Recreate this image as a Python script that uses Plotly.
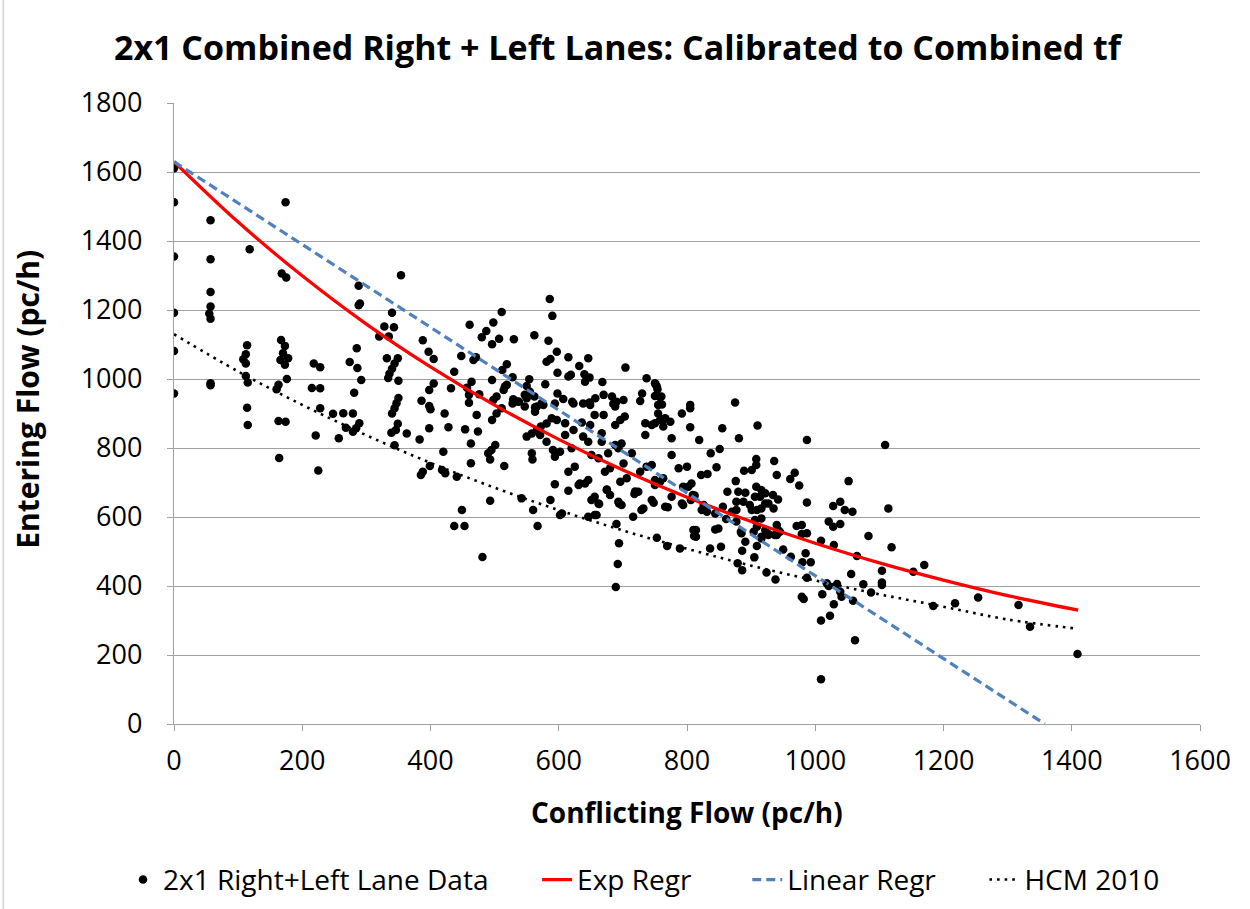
import plotly.graph_objects as go

# ---------------- data ----------------
data_x = [
    0, 0, 0, 0, 0, 0,
    57, 57, 57, 57, 55, 57, 57, 57,
    118, 114, 112, 108, 112, 112, 115, 114, 115,
    174, 168, 175, 167, 173, 170, 166, 178, 173, 176, 163, 160, 163, 174, 164,
    225, 218, 228, 215, 228, 228, 221, 257, 248, 264, 279, 289, 268, 279, 284, 274, 286, 285, 292, 281,
    288, 290, 288, 320, 328, 335, 343, 340, 354, 349, 344, 340, 336, 334, 350, 332, 350, 347, 344, 340,
    349, 346, 339, 363, 344, 388, 397, 386, 400, 398, 398, 398, 383, 405, 405,
    399, 385, 388,
    586, 590, 511, 498, 461, 487, 480, 496, 507, 530, 562, 584, 597, 587, 581, 448, 471, 467, 519, 512,
    437, 528, 519, 514, 496, 464, 457, 432, 476, 460, 460, 503, 498, 516, 554, 550, 529, 536, 547, 555,
    562, 550, 579, 563, 576,
    615, 646, 632, 598, 619, 615, 640, 648, 641, 704, 668, 737, 751, 754, 750, 758, 730, 727, 761, 598,
    607, 621, 638, 648, 657, 670, 683, 690, 701, 688,
    422, 472, 503, 511, 496, 428, 454, 474, 463, 420, 501, 495, 490, 493, 515, 463, 418, 423, 441, 493,
    449, 437, 453, 567, 560, 587, 602, 542, 594, 558, 559, 591, 594, 528, 538, 547, 563, 566, 573, 581,
    589, 597, 550, 558, 566, 571, 581, 572,
    594, 623, 649, 685, 792, 755, 763, 656, 670, 610, 636, 649, 688, 696, 703, 735, 745, 763, 774, 610,
    623, 638, 646, 667, 667, 735, 776, 688, 693, 698, 602, 620, 651, 662, 677, 714, 776, 701, 680, 672,
    615, 625, 727, 737, 745, 787, 800, 750, 763, 633, 646, 696, 706, 794, 615, 675, 656, 651, 719, 745,
    776, 662, 693, 698, 732, 766, 794, 605, 646, 656, 716, 690,
    481, 631, 641, 663, 675, 680, 659, 694, 718, 724, 729, 694, 692, 689, 748, 750, 758, 770, 792, 806,
    809, 753, 769, 789, 810, 811,
    805, 755, 760, 753, 750, 750, 758, 766,
    875, 805, 805, 855, 910, 819, 881, 987, 1109, 851, 837, 846, 822, 832, 908, 908, 936, 889, 901, 940,
    968, 961, 975, 1052, 807, 802, 876, 863, 908, 916, 922, 914, 906, 880, 891, 934, 942, 812, 877, 888,
    898, 856, 922, 927, 935, 987, 1028, 1039, 1046, 1058, 1114, 826, 823, 831, 844, 870, 877, 901, 909, 916,
    861, 877, 906, 916, 909, 904, 940, 942, 937, 922, 927, 916, 909, 891, 884, 849, 844, 814, 814, 853,
    836, 971, 979, 979, 987, 1021, 1028, 1039, 1009, 1029, 1083, 1119, 950,
    1065, 962, 985, 980, 993, 987, 1056, 1104, 1104, 1104, 1153, 1170, 1075, 1087, 1018, 1021, 1034, 1039, 1041, 1011,
    1059, 1029, 1023, 1009, 1062, 1009, 979, 982, 1184, 1218, 885, 886, 886, 905, 879, 924, 938, 916, 927, 940,
    945,
    1254, 1317, 1335, 1409,
]
data_y = [
    1611, 1512, 1355, 1192, 1081, 958,
    1460, 1347, 1252, 1210, 1190, 1175, 988, 982,
    1376, 1098, 1072, 1057, 1045, 1009, 990, 917, 867,
    1512, 1306, 1294, 1113, 1096, 1075, 1055, 1060, 1041, 1000, 983, 970, 878, 876, 771,
    735, 1045, 1034, 974, 973, 915, 836, 828, 899, 901, 900, 872, 859, 847, 857, 1049, 1032, 1089, 997, 960,
    1214, 1219, 1270, 1123, 1152, 1123, 1150, 1192, 1301, 1060, 1045, 1030, 1015, 1003, 995, 1060, 945, 930, 915, 900,
    870, 852, 844, 842, 808, 1112, 1079, 937, 912, 922, 968, 857, 825, 987, 1058,
    748, 722, 731,
    1232, 1183, 1194, 1164, 1157, 1139, 1121, 1101, 1117, 1115, 1127, 1111, 1079, 1058, 1050, 1067, 1063, 1055, 1043, 1026,
    1021, 1005, 983, 968, 997, 992, 975, 973, 956, 954, 931, 949, 939, 978, 999, 980, 941, 935, 954, 963,
    949, 944, 985, 918, 925,
    1063, 1060, 1038, 1018, 1012, 1007, 1014, 1004, 992, 1033, 991, 1002, 985, 970, 951, 947, 958, 936, 926, 958,
    942, 934, 929, 932, 944, 954, 949, 934, 939, 920,
    900, 896, 900, 915, 881, 860, 854, 848, 813, 789, 809, 794, 785, 767, 748, 756, 736, 727, 717, 647,
    620, 574, 574, 574, 620, 649, 606, 654, 695, 785, 767, 794, 775, 929, 934, 920, 905, 920, 929, 871,
    886, 881, 833, 842, 852, 838, 818, 862,
    929, 929, 925, 928, 900, 900, 883, 896, 896, 872, 874, 867, 867, 881, 891, 872, 867, 862, 876, 838,
    852, 833, 818, 843, 818, 838, 828, 809, 799, 813, 789, 799, 780, 770, 785, 785, 780, 755, 741, 731,
    731, 746, 731, 746, 751, 741, 746, 707, 712, 697, 707, 702, 712, 688, 676, 680, 659, 649, 674, 649,
    659, 639, 644, 635, 625, 630, 635, 610, 601, 606, 601, 580,
    484, 693, 697, 638, 678, 664, 606, 639, 667, 673, 620, 524, 464, 397, 641, 693, 702, 628, 639, 649,
    664, 540, 516, 509, 562, 545,
    925, 925, 949, 978, 988, 872, 881, 886,
    932, 915, 860, 857, 865, 823, 828, 823, 809, 797, 785, 744, 722, 725, 768, 751, 762, 734, 736, 722,
    728, 710, 691, 704, 697, 688, 704, 673, 688, 678, 669, 659, 659, 673, 670, 664, 651, 662, 644, 644,
    635, 630, 639, 639, 625, 642, 632, 644, 620, 615, 625, 635, 620, 615, 610, 615, 620, 620, 620, 625,
    594, 587, 591, 596, 572, 557, 577, 562, 548, 562, 551, 538, 516, 528, 557, 567, 564, 562, 543, 514,
    509, 574, 577, 551, 553, 587, 572, 580, 531, 519, 545, 512, 506,
    487, 485, 495, 469, 469, 424, 435, 444, 410, 403, 441, 461, 405, 381, 408, 400, 406, 383, 369, 376,
    357, 347, 314, 300, 243, 130, 369, 362, 342, 350, 553, 502, 446, 483, 466, 439, 419, 543, 548, 548,
    557,
    367, 345, 282, 203,
]

# Regression / model curves
exp_x = [0, 100, 200, 300, 400, 500, 600, 700, 800, 900, 1000, 1100, 1200, 1300, 1410]
exp_y = [1630, 1455, 1299, 1159, 1035, 924, 825, 736, 657, 587, 524, 467, 417, 372, 330]

lin_x = [0, 1358]
lin_y = [1630, 0]

hcm_x = [0, 100, 200, 300, 400, 500, 600, 700, 800, 900, 1000, 1100, 1200, 1300, 1410]
hcm_y = [1130, 1022, 925, 837, 757, 685, 620, 561, 508, 459, 416, 376, 340, 303, 276]

x_ticks = [0, 200, 400, 600, 800, 1000, 1200, 1400, 1600]
y_ticks = [0, 200, 400, 600, 800, 1000, 1200, 1400, 1600, 1800]

series_names = ["2x1 Right+Left Lane Data", "Exp Regr", "Linear Regr", "HCM 2010"]

FONT = "Open Sans"
GRID = "#A0A0A0"
NB = "\u00a0"

fig = go.Figure()
fig.add_trace(go.Scatter(
    x=data_x, y=data_y, mode="markers", name=series_names[0] + NB * 6,
    marker=dict(color="black", size=8.5, line=dict(width=0)),
))
fig.add_trace(go.Scatter(
    x=exp_x, y=exp_y, mode="lines", name=series_names[1] + NB * 7, line_shape="spline",
    line=dict(color="#FF0000", width=3.2),
))
fig.add_trace(go.Scatter(
    x=lin_x, y=lin_y, mode="lines", name=series_names[2] + NB * 6,
    line=dict(color="#4F81BD", width=3.2, dash="9px,5px"),
))
fig.add_trace(go.Scatter(
    x=hcm_x, y=hcm_y, mode="lines", name=series_names[3], line_shape="spline",
    line=dict(color="black", width=2.6, dash="2.6px,5px"),
))

fig.update_layout(
    width=1250, height=909,
    margin=dict(l=174, r=50, t=103, b=185, autoexpand=False),
    paper_bgcolor="white", plot_bgcolor="white",
    font=dict(family=FONT, color="black"),
    showlegend=True,
    title=dict(
        text="<b>2x1 Combined Right + Left Lanes: Calibrated to Combined tf</b>",
        xref="container", x=0.494, xanchor="center",
        yref="container", y=0.947, yanchor="middle",
        font=dict(family=FONT, size=34, color="black"),
    ),
    legend=dict(
        orientation="h", x=-0.0497, xanchor="left",
        y=-0.251, yanchor="middle",
        font=dict(family=FONT, size=28, color="black"),
        itemwidth=30, tracegroupgap=0,
    ),
    xaxis=dict(
        range=[0, 1600], tickmode="array", tickvals=x_ticks,
        showgrid=False, zeroline=False,
        showline=True, linecolor=GRID, linewidth=1.3,
        ticks="outside", ticklen=6, tickcolor=GRID, tickwidth=1.3,
        ticklabelstandoff=6,
        tickfont=dict(family=FONT, size=27, color="black"),
    ),
    yaxis=dict(
        range=[0, 1800], tickmode="array", tickvals=y_ticks,
        showgrid=True, gridcolor=GRID, gridwidth=1.3, zeroline=False,
        showline=True, linecolor=GRID, linewidth=1.3,
        ticks="outside", ticklen=6, tickcolor=GRID, tickwidth=1.3,
        ticklabelstandoff=19,
        tickfont=dict(family=FONT, size=27, color="black"),
    ),
    annotations=[
        dict(text="<b>Conflicting Flow (pc/h)</b>", xref="paper", yref="paper",
             x=0.5, y=-0.1417, xanchor="center", yanchor="middle", showarrow=False,
             font=dict(family=FONT, size=28, color="black")),
        dict(text="<b>Entering Flow (pc/h)</b>", xref="paper", yref="paper",
             x=-0.1423, y=0.522, xanchor="center", yanchor="middle", showarrow=False,
             textangle=-90, font=dict(family=FONT, size=30, color="black")),
    ],
    shapes=[
        dict(type="line", xref="paper", yref="paper", x0=-0.1665, x1=-0.1665, y0=-0.3, y1=1.17,
             line=dict(color="#BFBFBF", width=1)),
    ],
)

fig.write_html(
    "out.html",
    config={"displayModeBar": False},
    post_script="document.body.style.margin='0px';document.body.style.padding='0px';",
)
